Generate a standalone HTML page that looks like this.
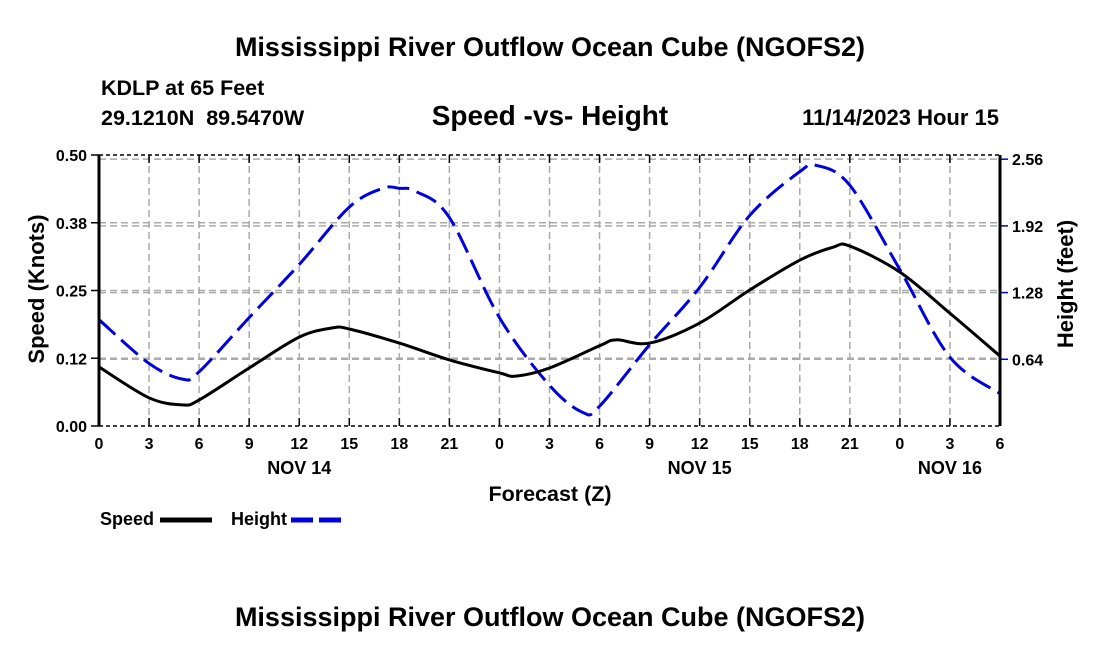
<!DOCTYPE html>
<html><head><meta charset="utf-8"><style>
body{margin:0;background:#fff;width:1100px;height:650px;overflow:hidden}
text{font-family:"Liberation Sans",sans-serif;font-weight:bold;fill:#000;white-space:pre}
</style></head><body>
<svg id="chart" width="1100" height="650" xmlns="http://www.w3.org/2000/svg">
<text x="550" y="56" font-size="27" text-anchor="middle">Mississippi River Outflow Ocean Cube (NGOFS2)</text>
<text x="101" y="95" font-size="21.5">KDLP at 65 Feet</text>
<text x="101" y="125" font-size="21.5" xml:space="preserve">29.1210N  89.5470W</text>
<text x="550" y="125" font-size="28" text-anchor="middle">Speed -vs- Height</text>
<text x="999" y="125" font-size="22" text-anchor="end">11/14/2023 Hour 15</text>
<g id="grid"></g>
<g id="series"></g>
<g id="axes"></g>
<text transform="translate(44,289) rotate(-90)" font-size="22" text-anchor="middle">Speed (Knots)</text>
<text transform="translate(1073,284) rotate(-90)" font-size="22" text-anchor="middle">Height (feet)</text>
<text x="550" y="501" font-size="21.5" text-anchor="middle">Forecast (Z)</text>
<g>
<text x="100" y="525" font-size="18">Speed</text>
<line x1="160" y1="520" x2="212" y2="520" stroke="#000" stroke-width="5"/>
<text x="231" y="525" font-size="18">Height</text>
<line x1="291" y1="520" x2="343" y2="520" stroke="#0000dd" stroke-width="5" stroke-dasharray="22,6"/>
</g>
<text x="550" y="626" font-size="27" text-anchor="middle">Mississippi River Outflow Ocean Cube (NGOFS2)</text>
</svg>
<script>
const xTickLabels=["0","3","6","9","12","15","18","21","0","3","6","9","12","15","18","21","0","3","6"];
const dayLabels=["NOV 14","NOV 15","NOV 16"];
const dayHours=[12,36,51];
const speedTicks=[0,0.125,0.25,0.375,0.5];
const speedTickLabels=["0.00","0.12","0.25","0.38","0.50"];
const heightTicks=[0.64,1.28,1.92,2.56];
const heightTickLabels=["0.64","1.28","1.92","2.56"];
const speedHours=[0,3,5,6,9,12,14,15,18,21,24,25,27,30,31,33,36,39,42,44,45,48,51,54];
const speedVals=[0.109,0.052,0.039,0.048,0.107,0.164,0.181,0.179,0.153,0.122,0.098,0.092,0.107,0.148,0.159,0.153,0.190,0.251,0.306,0.330,0.332,0.284,0.208,0.129];
const heightHours=[0,3,5,6,9,12,15,17,18,19,21,24,27,29,30,33,36,39,42,43,45,48,51,54];
const heightVals=[1.02,0.60,0.45,0.52,1.04,1.55,2.10,2.28,2.28,2.25,2.00,1.04,0.39,0.13,0.19,0.78,1.33,2.02,2.44,2.50,2.31,1.50,0.66,0.31];
const L=99,R=1000,T=155,B=426,HMAX=54,SMAX=0.5,FTMAX=2.6;
const xs=h=>L+(R-L)*h/HMAX;
const ys=v=>B-(B-T)*v/SMAX;
const yh=v=>B-(B-T)*v/FTMAX;
const NS="http://www.w3.org/2000/svg";
function mk(tag,attrs,parent){const e=document.createElementNS(NS,tag);for(const k in attrs)e.setAttribute(k,attrs[k]);parent.appendChild(e);return e;}
const grid=document.getElementById('grid'),axes=document.getElementById('axes'),series=document.getElementById('series');
xTickLabels.forEach((lab,i)=>{const x=xs(i*3);
 if(i>0&&i<xTickLabels.length-1){const g=mk('line',{x1:x,y1:T,x2:x,y2:B,stroke:'#aaa','stroke-width':1.5,'stroke-dasharray':'7,4'},grid);
 
 }
 const t=mk('line',{x1:x,y1:B,x2:x,y2:B-8,stroke:'#000','stroke-width':1.5},axes);
 
 
 const t2=mk('line',{x1:x,y1:T,x2:x,y2:T+8,stroke:'#000','stroke-width':1.5},axes);
 
 
 const tx=mk('text',{x:x,y:B+23,'font-size':16,'text-anchor':'middle'},axes);tx.textContent=lab;
 
 });
dayLabels.forEach((d,i)=>{const tx=mk('text',{x:xs(dayHours[i]),y:B+48,'font-size':18,'text-anchor':'middle'},axes);tx.textContent=d;
 
 });
speedTicks.forEach((v,i)=>{const y=ys(v);
 if(i>0&&i<speedTicks.length-1){const g=mk('line',{x1:L,y1:y,x2:R,y2:y,stroke:'#aaa','stroke-width':1.5,'stroke-dasharray':'7,4'},grid);
 
 }
 const t=mk('line',{x1:L-8,y1:y,x2:L,y2:y,stroke:'#000','stroke-width':1.5},axes);
 
 
 const tx=mk('text',{x:L-12,y:y+6,'font-size':16,'text-anchor':'end'},axes);tx.textContent=speedTickLabels[i];
 
 });
heightTicks.forEach((v,i)=>{const y=yh(v);
 const g=mk('line',{x1:L,y1:y,x2:R,y2:y,stroke:'#aaa','stroke-width':1.5,'stroke-dasharray':'7,4'},grid);
 
 
 const t=mk('line',{x1:R,y1:y,x2:R+8,y2:y,stroke:'#0000cc','stroke-width':1.5},axes);
 
 
 const tx=mk('text',{x:R+12,y:y+6,'font-size':16},axes);tx.textContent=heightTickLabels[i];
 
 });
[[L,T,R,T,'top-border'],[L,B,R,B,'bottom-border']].forEach(a=>{const e=mk('line',{x1:a[0],y1:a[1],x2:a[2],y2:a[3],stroke:'#000','stroke-width':1.5,'stroke-dasharray':'4,3'},axes);
 
 });
[[L,'left-axis'],[R,'right-axis']].forEach(a=>{const e=mk('line',{x1:a[0],y1:T,x2:a[0],y2:B,stroke:'#000','stroke-width':3},axes);
 
 });
function smooth(pts){let d='M'+pts[0][0]+','+pts[0][1];
 for(let i=0;i<pts.length-1;i++){const p0=pts[Math.max(i-1,0)],p1=pts[i],p2=pts[i+1],p3=pts[Math.min(i+2,pts.length-1)];
 d+=' C'+(p1[0]+(p2[0]-p0[0])/6)+','+(p1[1]+(p2[1]-p0[1])/6)+' '+(p2[0]-(p3[0]-p1[0])/6)+','+(p2[1]-(p3[1]-p1[1])/6)+' '+p2[0]+','+p2[1];}
 return d;}
const hp=mk('path',{d:smooth(heightHours.map((h,i)=>[xs(h),yh(heightVals[i])])),fill:'none',stroke:'#0000dd','stroke-width':3,'stroke-dasharray':'22,8'},series);


const sp=mk('path',{d:smooth(speedHours.map((h,i)=>[xs(h),ys(speedVals[i])])),fill:'none',stroke:'#000','stroke-width':3},series);


</script>
</body></html>
